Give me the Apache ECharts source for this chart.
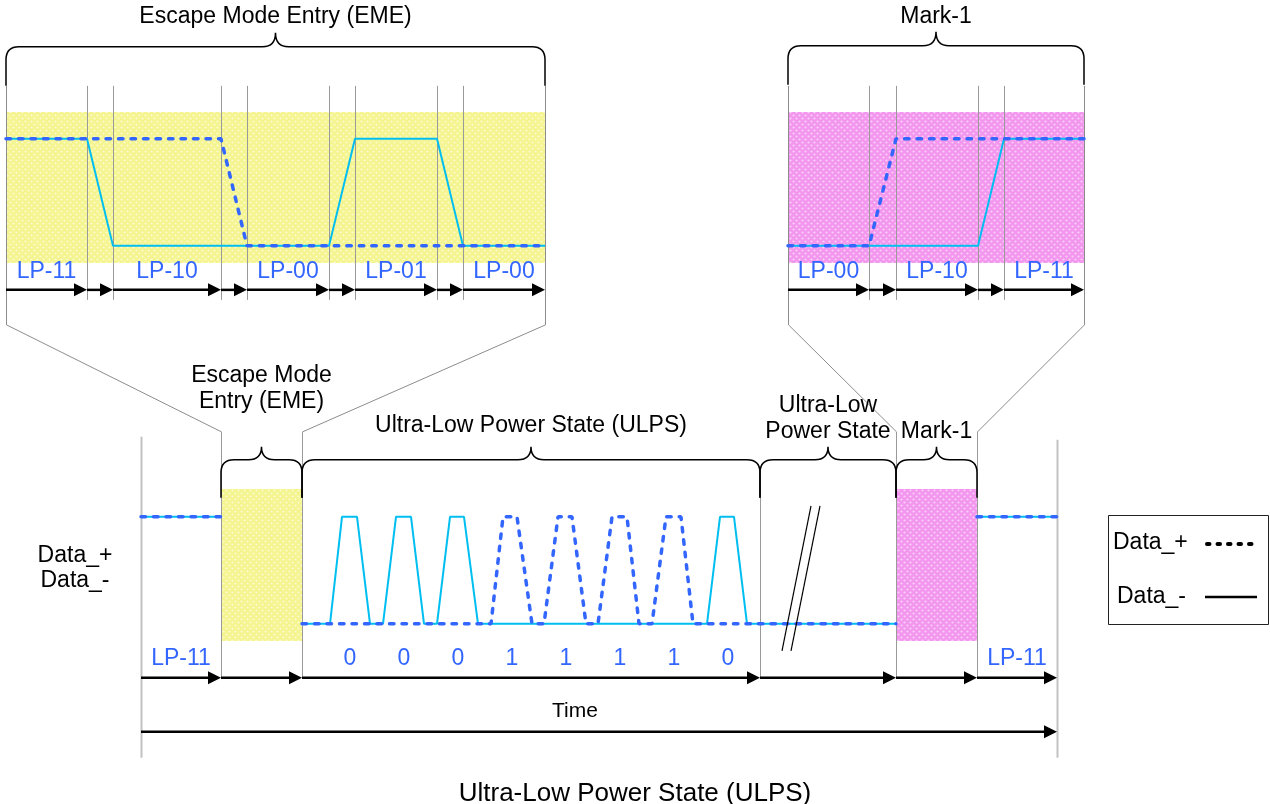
<!DOCTYPE html>
<html>
<head>
<meta charset="utf-8">
<title>ULPS timing</title>
<script src="https://cdn.jsdelivr.net/npm/echarts@6.0.0/dist/echarts.min.js"></script>
<style>
  html, body { margin: 0; padding: 0; background: #fff; }
  #chart { width: 1270px; height: 804px; }
</style>
</head>
<body>
<div id="chart"></div>
<script>
// time in arbitrary units, level 1 = high, 0 = low

// zoom of Escape Mode Entry
var emeEdges = [0, 81, 107, 215, 241, 323, 349, 431, 457, 539];
var emeStates = ["LP-11", "LP-10", "LP-00", "LP-01", "LP-00"];
var emeDataP = [[0, 1], [215, 1], [241, 0], [539, 0]];
var emeDataN = [[0, 1], [81, 1], [107, 0], [323, 0], [349, 1], [431, 1], [457, 0], [539, 0]];

// zoom of Mark-1
var markEdges = [0, 81, 108, 190, 216, 296];
var markStates = ["LP-00", "LP-10", "LP-11"];
var markDataP = [[0, 0], [81, 0], [108, 1], [296, 1]];
var markDataN = [[0, 0], [190, 0], [216, 1], [296, 1]];

// whole sequence
var mainEdges = [0, 80, 161, 619, 755, 836, 916];
var mainStates = ["LP-11", "", "", "", "", "LP-11"];
var mainPhases = [[], ["Escape Mode", "Entry (EME)"], ["Ultra-Low Power State (ULPS)"], ["Ultra-Low", "Power State"], ["Mark-1"], []];
var ulpsBits = ["0", "0", "0", "1", "1", "1", "1", "0"];
var bitPos = [209, 263, 317, 371, 425, 479, 533, 587];
var emeSpan = [[80, 161]];
var markSpan = [[755, 836]];
var mainDataP = [
  [[0, 1], [80, 1]],
  [[161, 0], [350, 0], [362, 1], [376, 1], [391, 0], [403, 0], [417, 1], [431, 1], [445, 0],
   [457, 0], [471, 1], [486, 1], [498, 0], [511, 0], [525, 1], [540, 1], [552, 0], [755, 0]],
  [[836, 1], [916, 1]]
];
var mainDataN = [
  [[0, 1], [80, 1]],
  [[161, 0], [189, 0], [201, 1], [216, 1], [229, 0], [242, 0], [255, 1], [270, 1], [283, 0],
   [296, 0], [309, 1], [323, 1], [337, 0], [566, 0], [579, 1], [593, 1], [606, 0], [755, 0]],
  [[836, 1], [916, 1]]
];

var BLUE = "#3366ff", CYAN = "#00bff0", GREY = "#9a9a9a";
var FONT = "'Liberation Sans', Arial, sans-serif";
var FS = 23;

function dotPattern(base, dot) {
  var c = document.createElement("canvas");
  c.width = 6; c.height = 6;
  var g = c.getContext("2d");
  g.fillStyle = base; g.fillRect(0, 0, 6, 6);
  g.fillStyle = dot;
  g.beginPath(); g.arc(1.5, 1.5, 1.1, 0, Math.PI * 2); g.fill();
  g.beginPath(); g.arc(4.5, 4.5, 1.1, 0, Math.PI * 2); g.fill();
  return c;
}
var yellowFill = { image: dotPattern("#f4f490", "#fbfbcc"), repeat: "repeat" };
var pinkFill = { image: dotPattern("#f296ee", "#fbcefa"), repeat: "repeat" };

function pairsOf(edges) {
  var out = [];
  for (var i = 0; i < edges.length - 1; i++) out.push([edges[i], edges[i + 1]]);
  return out;
}
function base(g, data, z) {
  return { type: "custom", xAxisIndex: g, yAxisIndex: g, data: data, silent: true, clip: false, z: z };
}

// background band(s)
function fills(g, spans, fill) {
  var s = base(g, spans, 1);
  s.renderItem = function (params, api) {
    var a = api.coord([api.value(0), 0]), b = api.coord([api.value(1), 0]);
    var cs = params.coordSys;
    return { type: "rect", shape: { x: a[0], y: cs.y, width: b[0] - a[0], height: cs.height }, style: { fill: fill } };
  };
  return s;
}

// thin separators, span(i, n) -> [topOffset, bottomOffset, color, width] from the low level
function vlines(g, xs, span) {
  var s = base(g, xs.map(function (x) { return [x, 0]; }), 2);
  s.renderItem = function (params, api) {
    var p = api.coord([api.value(0), 0]);
    var sp = span(params.dataIndex, xs.length);
    var x = Math.round(p[0]) + 0.5;
    return { type: "line", shape: { x1: x, y1: p[1] + sp[0], x2: x, y2: p[1] + sp[1] },
      style: { stroke: sp[2] || GREY, lineWidth: sp[3] || 1 } };
  };
  return s;
}

function arrows(g, pairs, dy) {
  var s = base(g, pairs, 6);
  s.renderItem = function (params, api) {
    var a = api.coord([api.value(0), 0]), b = api.coord([api.value(1), 0]);
    var y = a[1] + dy;
    return { type: "group", children: [
      { type: "line", shape: { x1: a[0], y1: y, x2: b[0] - 8, y2: y }, style: { stroke: "#000", lineWidth: 2.5 } },
      { type: "polygon", shape: { points: [[b[0], y], [b[0] - 13, y - 6.5], [b[0] - 13, y + 6.5]] }, style: { fill: "#000" } }
    ] };
  };
  return s;
}

function braces(g, pairs, dyH, dyTip, dyLeg) {
  var s = base(g, pairs, 6);
  s.renderItem = function (params, api) {
    var a = api.coord([api.value(0), 0]), b = api.coord([api.value(1), 0]);
    var x1 = a[0], x2 = b[0], xm = (x1 + x2) / 2;
    var yh = a[1] + dyH, yt = a[1] + dyTip, yl = a[1] + dyLeg, r = 13;
    var d = "M" + x1 + "," + yl + " L" + x1 + "," + (yh + r) +
      " Q" + x1 + "," + yh + " " + (x1 + r) + "," + yh +
      " L" + (xm - r) + "," + yh +
      " Q" + xm + "," + yh + " " + xm + "," + yt +
      " Q" + xm + "," + yh + " " + (xm + r) + "," + yh +
      " L" + (x2 - r) + "," + yh +
      " Q" + x2 + "," + yh + " " + x2 + "," + (yh + r) +
      " L" + x2 + "," + yl;
    return { type: "path", shape: { pathData: d }, style: { stroke: "#000", lineWidth: 1.5, fill: null } };
  };
  return s;
}

// labels centred on x, dy(i) = offset from the low level
function texts(g, xs, strs, dy, color, size) {
  var s = base(g, xs.map(function (x) { return [x, 0]; }), 7);
  s.renderItem = function (params, api) {
    var p = api.coord([api.value(0), 0]);
    var i = params.dataIndex;
    return { type: "text", x: p[0], y: p[1] + dy(i),
      style: { text: strs[i], fill: color, font: size + "px " + FONT,
        align: "center", verticalAlign: "middle", textAlign: "center", textVerticalAlign: "middle" } };
  };
  return s;
}

function wave(g, pts, dashed) {
  return {
    type: "line", xAxisIndex: g, yAxisIndex: g, data: pts, showSymbol: false, symbol: "none",
    silent: true, z: dashed ? 5 : 4,
    lineStyle: dashed ? { color: BLUE, width: 3.5, type: [4.5, 8], cap: "round" } : { color: CYAN, width: 2 }
  };
}

function mids(edges, step) {
  var out = [];
  for (var i = 0; i < edges.length - 1; i += step) out.push((edges[i] + edges[i + 1]) / 2);
  return out;
}

var series = [];

// ---- top-left: EME zoom
series.push(fills(0, [[emeEdges[0], emeEdges[emeEdges.length - 1]]], yellowFill));
series.push(vlines(0, emeEdges, function (i, n) {
  return (i === 0 || i === n - 1) ? [-160, 79, "#8c8c8c"] : [-160, 54];
}));
series.push(wave(0, emeDataN, false), wave(0, emeDataP, true));
series.push(texts(0, mids(emeEdges, 2), emeStates, function () { return 26; }, BLUE, FS));
series.push(arrows(0, pairsOf(emeEdges), 44));
series.push(braces(0, [[emeEdges[0], emeEdges[emeEdges.length - 1]]], -199, -213, -160));
series.push(texts(0, [(emeEdges[0] + emeEdges[emeEdges.length - 1]) / 2], ["Escape Mode Entry (EME)"], function () { return -229; }, "#000", FS));

// ---- top-right: Mark-1 zoom
series.push(fills(1, [[markEdges[0], markEdges[markEdges.length - 1]]], pinkFill));
series.push(vlines(1, markEdges, function (i, n) {
  return (i === 0 || i === n - 1) ? [-160, 79, "#8c8c8c"] : [-160, 54];
}));
series.push(wave(1, markDataN, false), wave(1, markDataP, true));
series.push(texts(1, mids(markEdges, 2), markStates, function () { return 26; }, BLUE, FS));
series.push(arrows(1, pairsOf(markEdges), 44));
series.push(braces(1, [[markEdges[0], markEdges[markEdges.length - 1]]], -200, -214, -161));
series.push(texts(1, [(markEdges[0] + markEdges[markEdges.length - 1]) / 2], ["Mark-1"], function () { return -229; }, "#000", FS));

// ---- bottom: full sequence
series.push(fills(2, emeSpan, yellowFill), fills(2, markSpan, pinkFill));
series.push(vlines(2, mainEdges, function (i, n) {
  if (i === 0) return [-187, 134, "#c2c2c2", 2];
  if (i === n - 1) return [-184, 134, "#c2c2c2", 2];
  if (i === 3) return [-126, 54];
  return [-192, 54];
}));
mainDataN.forEach(function (seg) { series.push(wave(2, seg, false)); });
mainDataP.forEach(function (seg) { series.push(wave(2, seg, true)); });
series.push(texts(2, mids(mainEdges, 1), mainStates, function () { return 35; }, BLUE, FS));
series.push(texts(2, bitPos, ulpsBits, function () { return 35; }, BLUE, FS));
series.push(arrows(2, pairsOf(mainEdges), 54));
series.push(arrows(2, [[mainEdges[0], mainEdges[mainEdges.length - 1]]], 108));
series.push(texts(2, [434], ["Time"], function () { return 87; }, "#000", 21));
series.push(braces(2, pairsOf(mainEdges).slice(1, 5), -164, -177, -126));

var phaseX = [], phaseText = [], phaseDy = [];
var phaseLast = [0, -222, -198, -192, -192, 0];
mids(mainEdges, 1).forEach(function (x, i) {
  var lines = mainPhases[i];
  lines.forEach(function (t, k) {
    phaseX.push(x); phaseText.push(t);
    phaseDy.push(phaseLast[i] - (lines.length - 1 - k) * 26);
  });
});
series.push(texts(2, phaseX, phaseText, function (i) { return phaseDy[i]; }, "#000", FS));

// break mark in the long ULPS stretch
var brk = base(2, [[(mainEdges[3] + mainEdges[4]) / 2, 0]], 7);
brk.renderItem = function (params, api) {
  var p = api.coord([api.value(0), 0]);
  var cx = p[0] - 46, y1 = p[1] + 27, y2 = p[1] - 118;
  return { type: "group", children: [
    { type: "line", shape: { x1: cx, y1: y1, x2: cx + 29, y2: y2 }, style: { stroke: "#000", lineWidth: 1.2 } },
    { type: "line", shape: { x1: cx + 9, y1: y1, x2: cx + 38, y2: y2 }, style: { stroke: "#000", lineWidth: 1.2 } }
  ] };
};
series.push(brk);

function xa(g, max) { return { type: "value", gridIndex: g, min: 0, max: max, show: false }; }
function ya(g, min, max) { return { type: "value", gridIndex: g, min: min, max: max, show: false }; }

var chart = echarts.init(document.getElementById("chart"));
chart.setOption({
  animation: false,
  title: { text: "Ultra-Low Power State (ULPS)", left: "center", top: 776,
    textStyle: { fontFamily: FONT, fontSize: 26, fontWeight: "normal", color: "#000" } },
  grid: [
    { left: 6, top: 112, width: 539, height: 151 },
    { left: 788, top: 112, width: 296, height: 151 },
    { left: 141, top: 489, width: 916, height: 152 }
  ],
  xAxis: [xa(0, emeEdges[emeEdges.length - 1]), xa(1, markEdges[markEdges.length - 1]), xa(2, mainEdges[mainEdges.length - 1])],
  yAxis: [ya(0, -0.16, 1.25), ya(1, -0.16, 1.25), ya(2, -0.16, 1.26)],
  series: series
});

// zoom connectors from the panels down to the timeline
function px(g, x) { return chart.convertToPixel({ gridIndex: g }, [x, 0]); }
var links = [
  [px(0, emeEdges[0]), px(2, mainEdges[1])],
  [px(0, emeEdges[emeEdges.length - 1]), px(2, mainEdges[2])],
  [px(1, markEdges[0]), px(2, mainEdges[4])],
  [px(1, markEdges[markEdges.length - 1]), px(2, mainEdges[5])]
];
var graphic = links.map(function (l) {
  return { type: "line", silent: true, z: 3,
    shape: { x1: Math.round(l[0][0]) + 0.5, y1: l[0][1] + 79, x2: Math.round(l[1][0]) + 0.5, y2: l[1][1] - 192 },
    style: { stroke: "#8c8c8c", lineWidth: 1 } };
});
var lowMain = px(2, 0)[1];
graphic.push(
  { type: "text", x: 75, y: lowMain - 68, style: { text: "Data_+", fill: "#000", font: FS + "px " + FONT, align: "center", verticalAlign: "middle" } },
  { type: "text", x: 75, y: lowMain - 43, style: { text: "Data_-", fill: "#000", font: FS + "px " + FONT, align: "center", verticalAlign: "middle" } },
  { type: "rect", shape: { x: 1108.5, y: 515.5, width: 160, height: 109 }, style: { fill: "#fff", stroke: "#222", lineWidth: 1 } },
  { type: "text", x: 1113, y: 543, style: { text: "Data_+", fill: "#000", font: FS + "px " + FONT, align: "left", verticalAlign: "middle" } },
  { type: "text", x: 1117, y: 597, style: { text: "Data_-", fill: "#000", font: FS + "px " + FONT, align: "left", verticalAlign: "middle" } },
  { type: "line", shape: { x1: 1207, y1: 544, x2: 1256, y2: 544 }, style: { stroke: "#000", lineWidth: 4, lineDash: [2.5, 8], lineCap: "round" } },
  { type: "line", shape: { x1: 1205, y1: 597, x2: 1257, y2: 597 }, style: { stroke: "#000", lineWidth: 2.5 } }
);
chart.setOption({ graphic: graphic });
</script>
</body>
</html>
